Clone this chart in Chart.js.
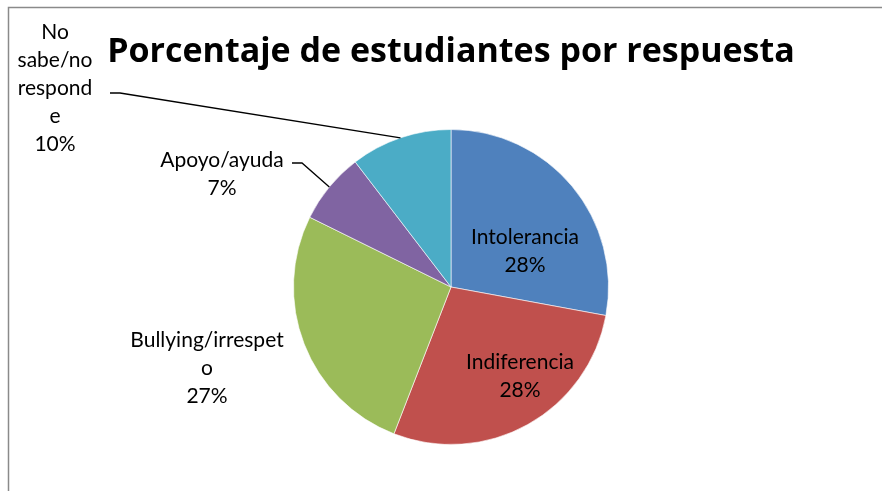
<!DOCTYPE html>
<html>
<head>
<meta charset="utf-8">
<script src="https://cdn.jsdelivr.net/npm/chart.js@4"></script>
<style>
  html, body { margin: 0; padding: 0; background: #ffffff; }
  #chart { display: block; }
</style>
</head>
<body>
<canvas id="chart" width="882" height="491"></canvas>
<script>
// ---- data ----
const categories = ['Intolerancia', 'Indiferencia', 'Bullying/irrespeto', 'Apoyo/ayuda', 'No sabe/no responde'];
const shares     = [27.9, 28.0, 26.4, 7.3, 10.4];   // slice sizes (measured from the angles)
const pctLabels  = [28, 28, 27, 7, 10];             // percentages printed on the chart
// how the label text wraps in the reference
const labelLines = [
  ['Intolerancia'],
  ['Indiferencia'],
  ['Bullying/irrespet', 'o'],
  ['Apoyo/ayuda'],
  ['No', 'sabe/no', 'respond', 'e'],
];

// Office 2007 palette
const SLICE_COLORS = ['#4f81bd', '#c0504d', '#9bbb59', '#8064a2', '#4bacc6'];

// label placement (centre of first text line), plus leader start if any
const LABEL_LAYOUT = [
  { x: 525, y: 237 },
  { x: 520, y: 362 },
  { x: 207, y: 340 },
  { x: 222, y: 160, leader: [292, 163] },
  { x: 55,  y: 32,  leader: [110, 93] },
];
const LINE_H = 28;
const LABEL_FONT = '21px Lato, "Liberation Sans", sans-serif';

// ---- frame round the chart, like the Excel chart border ----
const framePlugin = {
  id: 'frame',
  beforeDraw(chart) {
    const ctx = chart.ctx;
    ctx.save();
    ctx.fillStyle = '#ffffff';
    ctx.fillRect(0, 0, chart.width, chart.height);
    ctx.strokeStyle = '#8a8a8a';
    ctx.lineWidth = 1.5;
    ctx.strokeRect(8.5, 7.5, chart.width + 20, chart.height + 20);
    ctx.restore();
  }
};

// ---- data labels with leader lines ----
const labelPlugin = {
  id: 'sliceLabels',
  afterDatasetsDraw(chart) {
    const ctx = chart.ctx;
    const arcs = chart.getDatasetMeta(0).data;
    ctx.save();
    ctx.font = LABEL_FONT;
    ctx.fillStyle = '#000000';
    ctx.textAlign = 'center';
    ctx.textBaseline = 'middle';
    arcs.forEach((arc, i) => {
      const L = LABEL_LAYOUT[i];
      const lines = [...labelLines[i], pctLabels[i] + '%'];
      lines.forEach((t, k) => ctx.fillText(t, L.x, L.y + k * LINE_H));

      if (L.leader) {
        const mid = (arc.startAngle + arc.endAngle) / 2;
        const ex = arc.x + Math.cos(mid) * arc.outerRadius;
        const ey = arc.y + Math.sin(mid) * arc.outerRadius;
        ctx.beginPath();
        ctx.strokeStyle = '#000000';
        ctx.lineWidth = 1.3;
        ctx.moveTo(L.leader[0], L.leader[1]);
        ctx.lineTo(L.leader[0] + 10, L.leader[1]);
        ctx.lineTo(ex, ey);
        ctx.stroke();
      }
    });
    ctx.restore();
  }
};

new Chart(document.getElementById('chart'), {
  type: 'pie',
  data: {
    labels: categories,
    datasets: [{
      data: shares,
      backgroundColor: SLICE_COLORS,
      borderColor: 'rgba(255,255,255,0.6)',
      borderWidth: 1,
    }]
  },
  options: {
    responsive: false,
    animation: false,
    // wide chart area; the height limits the pie, centred at x = 451
    layout: { padding: { top: 10, bottom: 46, left: 30, right: 10 } },
    plugins: {
      legend: { display: false },
      tooltip: { enabled: false },
      title: {
        display: true,
        text: 'Porcentaje de estudiantes por respuesta',
        color: '#000000',
        font: { family: '"Open Sans", "Liberation Sans", sans-serif', size: 34, weight: 'bold', lineHeight: 1.2 },
        padding: { top: 22, bottom: 56.2 },
      },
    },
  },
  plugins: [framePlugin, labelPlugin],
});
</script>
</body>
</html>
